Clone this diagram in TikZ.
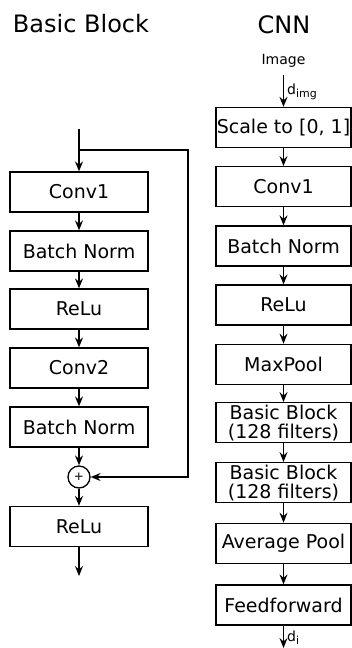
\documentclass[tikz,border=0pt]{standalone}
\usepackage{fontspec}
\setmainfont{DejaVu Sans}
\usetikzlibrary{arrows.meta}
\newcommand{\lowsub}[1]{\raisebox{-3pt}{\fontsize{11}{11}\selectfont #1}}
\begin{document}
\begin{tikzpicture}[x=1pt,y=-1pt,
  line width=1.3pt,
  arr/.style={-{Stealth[length=10pt,width=8pt,inset=3.5pt]}},
  blk/.style={draw, minimum height=40pt, inner sep=0pt, align=center,
    font=\fontsize{19}{19}\selectfont},
  lblk/.style={blk, minimum width=138pt},
  cblk/.style={blk, minimum width=135pt},
  ttl/.style={font=\fontsize{24}{24}\selectfont, inner sep=0pt},
  sml/.style={font=\fontsize{14}{14}\selectfont, inner sep=0pt}]
\useasboundingbox (0,0) rectangle (352,648);

% ---- Basic block ----
\node[ttl] (t1) at (81,24) {Basic Block};
\coordinate (bin) at (79,129);
\coordinate (bsplit) at (79,150);
\node[lblk] (b1) at (79,192) {Conv1};
\node[lblk] (b2) at (79,251) {Batch Norm};
\node[lblk] (b3) at (79,309) {ReLu};
\node[lblk] (b4) at (79,368) {Conv2};
\node[lblk] (b5) at (79,427) {Batch Norm};
\node[draw, circle, minimum size=22pt, inner sep=0pt, font=\fontsize{12}{12}\selectfont] (plus) at (79,477) {+};
\node[lblk] (b6) at (79,526.5) {ReLu};
\coordinate (bout) at (79,576);

\draw[arr] (bin) -- (b1);
\draw[arr] (b1) -- (b2);
\draw[arr] (b2) -- (b3);
\draw[arr] (b3) -- (b4);
\draw[arr] (b4) -- (b5);
\draw[arr] (b5) -- (plus);
\draw[arr] (plus) -- (b6);
\draw[arr] (b6) -- (bout);
\draw[arr] (bsplit) -- (188,150) -- (188,477) -- (plus);

% ---- CNN ----
\node[ttl] (t2) at (284,25) {CNN};
\node[sml] (img) at (283.5,61) {Image};
\node[cblk] (c1) at (283.5,127.5) {Scale to [0, 1]};
\node[cblk] (c2) at (283.5,186.7) {Conv1};
\node[cblk] (c3) at (283.5,246) {Batch Norm};
\node[cblk] (c4) at (283.5,305) {ReLu};
\node[cblk] (c5) at (283.5,364.3) {MaxPool};
\node[cblk] (c6) at (283.5,422.7) {Basic Block\\(128 filters)};
\node[cblk] (c7) at (283.5,482.7) {Basic Block\\(128 filters)};
\node[cblk] (c8) at (283.5,543.3) {Average Pool};
\node[cblk] (c9) at (283.5,605) {Feedforward};
\coordinate (cout) at (283.5,648);

\draw[arr] (img.south |- 0,75) -- node[right, sml, xshift=3pt, yshift=-1pt] {d\lowsub{img}} (c1);
\draw[arr] (c1) -- (c2);
\draw[arr] (c2) -- (c3);
\draw[arr] (c3) -- (c4);
\draw[arr] (c4) -- (c5);
\draw[arr] (c5) -- (c6);
\draw[arr] (c6) -- (c7);
\draw[arr] (c7) -- (c8);
\draw[arr] (c8) -- (c9);
\draw[arr] (c9) -- node[right, sml, xshift=3pt, yshift=-1pt] {d\lowsub{i}} (cout);
\end{tikzpicture}
\end{document}
